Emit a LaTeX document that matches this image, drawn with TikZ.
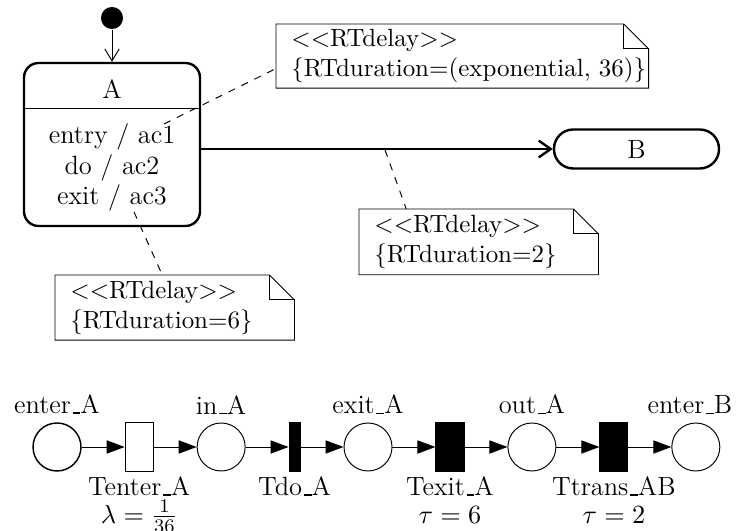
\documentclass[tikz,border=0pt]{standalone}
\usepackage{amsmath}
\usepackage{tikz}
\usetikzlibrary{positioning,arrows.meta}
\newcommand{\us}{\leavevmode\kern.06em\vbox{\hrule width.3em height.5pt}}
\newcommand{\notefold}[1]{%
  \draw (#1.north west) -- ([xshift=-10.4pt]#1.north east) -- ([yshift=-10.4pt]#1.north east)
    -- (#1.south east) -- (#1.south west) -- cycle;
  \draw ([xshift=-10.4pt]#1.north east) |- ([yshift=-10.4pt]#1.north east);}

\begin{document}
\begin{tikzpicture}[x=0.4167pt, y=-0.4167pt, node distance=17.9pt,
    font=\fontsize{11}{13}\selectfont,
    state/.style={draw, line width=1pt, rounded corners=6pt},
    note/.style={align=left, inner xsep=6.2pt, inner ysep=2pt, font=\fontsize{10.4}{12.5}\selectfont},
    place/.style={circle, draw, minimum size=20pt, inner sep=0pt},
    trans/.style={rectangle, draw, minimum width=11.7pt, minimum height=20.4pt, inner sep=0pt},
    timed/.style={trans, fill=black},
    pre/.style={-{Triangle[length=7.5pt,width=5.5pt]}},
    barb/.style={-{Straight Barb[length=5pt,width=6pt]}},
    above label/.style={label={[label distance=0pt]above:#1}},
    below label/.style={label={[align=center, label distance=-1.5pt]below:{#1}}}]
  \useasboundingbox (0,0) rectangle (736,531);

  % state machine
  \node[circle, fill=black, minimum size=9.2pt, inner sep=0pt] (init) at (112,18) {};
  \node[state, minimum width=73.3pt, minimum height=67.9pt] (A) at (112,144.5) {};
  \node (Aname) at (112,89) {A};
  \draw (A.west |- 0,108) -- (A.east |- 0,108);
  \node[align=center, font=\fontsize{11}{12.7}\selectfont] (Aact) at (112,167.5) {entry / ac1\\ do / ac2\\ exit / ac3};
  \node[state, rounded corners=8pt, minimum width=68.75pt, minimum height=16.25pt] (B) at (636.5,149) {B};

  \draw[barb] (init) -- (A);
  \draw[barb, line width=1pt, -{Straight Barb[length=5pt,width=7pt]}] (A.east |- B.west) -- (B.west);

  % notes
  \node[note, text width=142.5pt, minimum height=26.25pt, anchor=north west] (n1) at (276,24)
    {<{}<RTdelay>{}>\\ \{RTduration=(exponential,~36)\}};
  \notefold{n1}
  \node[note, text width=87pt, minimum height=27pt, anchor=north west] (n2) at (359,209)
    {<{}<RTdelay>{}>\\ \{RTduration=2\}};
  \notefold{n2}
  \node[note, text width=87pt, minimum height=26.7pt, anchor=north west] (n3) at (55,275)
    {<{}<RTdelay>{}>\\ \{RTduration=6\}};
  \notefold{n3}

  \coordinate (pA1) at (164,124);
  \coordinate (pT) at (385,150);
  \coordinate (pA3) at (134,212);
  \draw[dashed] (pA1) -- ([yshift=-5.2pt]n1.west);
  \draw[dashed] (pT) -- ([xshift=-30.2pt]n2.north);
  \draw[dashed] (pA3) -- ([xshift=-5.2pt]n3.north);

  % petri net
  \node[place, semithick, above label=enter\us A] (enterA) at (57,447) {};
  \node[trans, right=of enterA, below label={Tenter\us A\\[-1.5pt] $\lambda=\frac{1}{36}$}] (Tenter) {};
  \node[place, right=of Tenter, above label=in\us A] (inA) {};
  \node[timed, minimum width=4.6pt, right=of inA, below label=Tdo\us A] (Tdo) {};
  \node[place, right=of Tdo, above label=exit\us A] (exitA) {};
  \node[timed, right=of exitA, below label={Texit\us A\\[-1.5pt] $\tau=6$}] (Texit) {};
  \node[place, right=of Texit, above label=out\us A] (outA) {};
  \node[timed, right=of outA, below label={Ttrans\us AB\\[-1.5pt] $\tau=2$}] (Ttrans) {};
  \node[place, right=of Ttrans, label={[xshift=-2.5pt, label distance=0pt]above:enter\us B}] (enterB) {};

  \draw[pre] (enterA) -- (Tenter);
  \draw[pre] (Tenter) -- (inA);
  \draw[pre] (inA) -- (Tdo);
  \draw[pre] (Tdo) -- (exitA);
  \draw[pre] (exitA) -- (Texit);
  \draw[pre] (Texit) -- (outA);
  \draw[pre] (outA) -- (Ttrans);
  \draw[pre] (Ttrans) -- (enterB);
\end{tikzpicture}
\end{document}
